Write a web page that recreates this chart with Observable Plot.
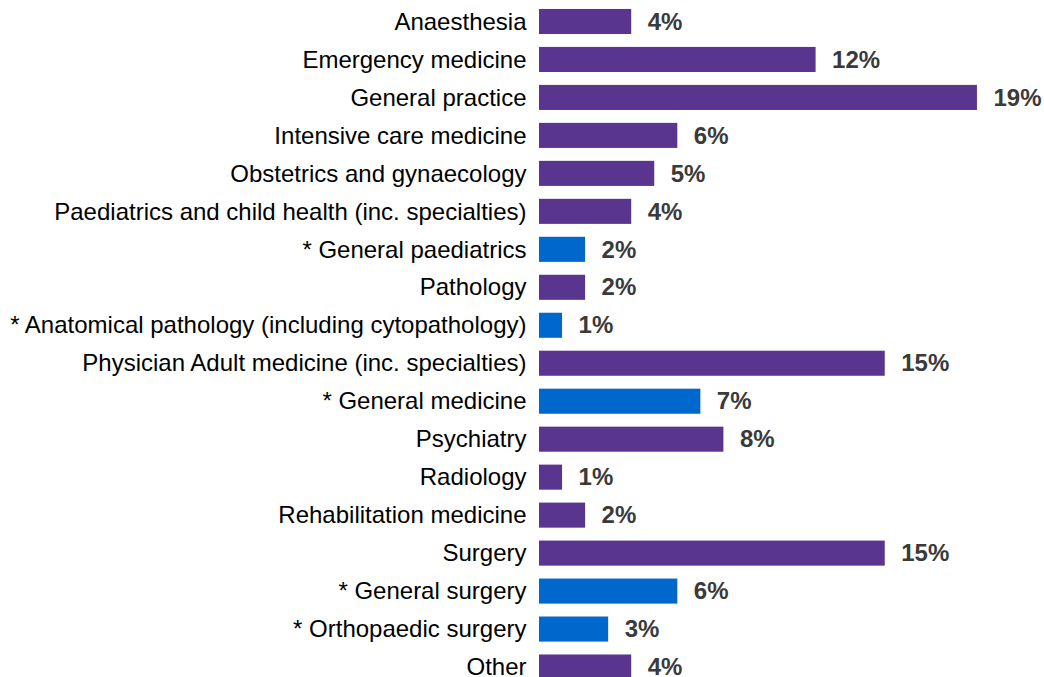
<!DOCTYPE html>
<html>
<head>
<meta charset="utf-8">
<script src="https://cdn.jsdelivr.net/npm/d3@7"></script>
<script src="https://cdn.jsdelivr.net/npm/@observablehq/plot@0.6"></script>
<style>
  html, body { margin: 0; padding: 0; background: #fff; overflow: hidden; }
  svg { display: block; }
</style>
</head>
<body>
<div id="chart"></div>
<script>
const categories = [
  "Anaesthesia",
  "Emergency medicine",
  "General practice",
  "Intensive care medicine",
  "Obstetrics and gynaecology",
  "Paediatrics and child health (inc. specialties)",
  "* General paediatrics",
  "Pathology",
  "* Anatomical pathology (including cytopathology)",
  "Physician Adult medicine (inc. specialties)",
  "* General medicine",
  "Psychiatry",
  "Radiology",
  "Rehabilitation medicine",
  "Surgery",
  "* General surgery",
  "* Orthopaedic surgery",
  "Other"
];
const values = [4, 12, 19, 6, 5, 4, 2, 2, 1, 15, 7, 8, 1, 2, 15, 6, 3, 4];
const groups = ["Specialty", "Specialty", "Specialty", "Specialty", "Specialty", "Specialty",
  "Sub-specialty", "Specialty", "Sub-specialty", "Specialty", "Sub-specialty", "Specialty",
  "Specialty", "Specialty", "Specialty", "Sub-specialty", "Sub-specialty", "Specialty"];

const data = categories.map((c, i) => ({category: c, value: values[i], group: groups[i]}));

const chart = Plot.plot({
  width: 1044,
  height: 686,
  marginLeft: 539,
  marginRight: 44,
  marginTop: 2.5,
  marginBottom: 0,
  style: {fontFamily: "Arial, 'Liberation Sans', sans-serif", background: "#fff"},
  x: {domain: [0, 20], axis: null, round: false},
  y: {domain: categories, paddingInner: 0.34, paddingOuter: 0.17, label: null, round: false},
  color: {domain: ["Specialty", "Sub-specialty"], range: ["#5a3590", "#0068cc"]},
  marks: [
    Plot.barX(data, {y: "category", x: "value", fill: "group"}),
    Plot.text(data, {
      y: "category", x: "value", text: d => d.value + "%",
      textAnchor: "start", dx: 16, fontSize: 24, fontWeight: "bold", fill: "#3a3a3a"
    }),
    Plot.axisY({tickSize: 0, tickPadding: 13, fontSize: 24, label: null, color: "#000"})
  ]
});
document.getElementById("chart").appendChild(chart);
</script>
</body>
</html>
